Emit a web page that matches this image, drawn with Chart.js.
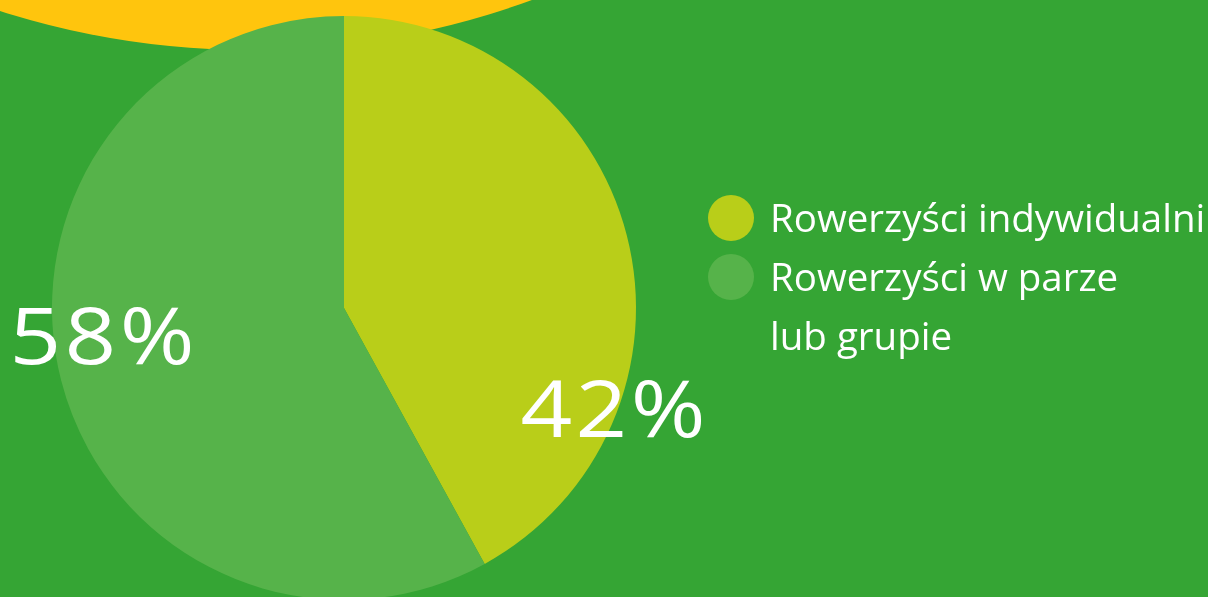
<!DOCTYPE html>
<html>
<head>
<meta charset="utf-8">
<script src="https://cdn.jsdelivr.net/npm/chart.js@4/dist/chart.umd.min.js"></script>
<style>
  html, body { margin: 0; padding: 0; }
  body { width: 1208px; height: 597px; overflow: hidden; background: #35a534; position: relative; }
  #sun { position: absolute; left: -570px; top: -1590px; width: 1640px; height: 1640px; border-radius: 50%; background: #ffc50d; }
  #chartBox { position: absolute; left: 0; top: 0; width: 1208px; height: 600px; }
</style>
</head>
<body>
<div id="sun"></div>
<div id="chartBox"><canvas id="myChart" width="1208" height="600"></canvas></div>
<script>
const labels = ['Rowerzyści indywidualni', ['Rowerzyści w parze', 'lub grupie']];
const shares = [42, 58];
const sliceColors = ['#b9ce19', '#56b34a'];

const FONT = '"Open Sans", "Noto Sans", sans-serif';

// procenty na wykresie
const percentLabels = {
  id: 'percentLabels',
  afterDatasetsDraw(chart, args, opts) {
    const ctx = chart.ctx;
    chart.data.datasets[0].data.forEach((v, i) => {
      const p = opts.anchors[i];
      ctx.save();
      ctx.font = '400 ' + opts.fontSize + 'px ' + FONT;
      ctx.letterSpacing = opts.spacing + 'px';
      ctx.fillStyle = '#ffffff';
      ctx.textAlign = 'left';
      ctx.textBaseline = 'alphabetic';
      const text = v + '%';
      const w = ctx.measureText(text).width - opts.spacing;
      ctx.translate(p.x, p.y);
      ctx.scale(opts.stretch, 1);
      ctx.fillText(text, -w / 2, 0);
      ctx.restore();
    });
  }
};

// legenda po prawej
const sideLegend = {
  id: 'sideLegend',
  afterDraw(chart, args, opts) {
    const ctx = chart.ctx;
    ctx.save();
    ctx.font = '400 ' + opts.fontSize + 'px ' + FONT;
    ctx.textBaseline = 'alphabetic';
    let y = opts.y;
    chart.data.labels.forEach((lab, i) => {
      const lines = Array.isArray(lab) ? lab : [lab];
      ctx.fillStyle = chart.data.datasets[0].backgroundColor[i];
      ctx.beginPath();
      ctx.arc(opts.x, y - opts.dotOffset, opts.dotR, 0, Math.PI * 2);
      ctx.fill();
      ctx.fillStyle = '#ffffff';
      lines.forEach(line => {
        ctx.fillText(line, opts.x + opts.textGap, y);
        y += opts.lineHeight;
      });
    });
    ctx.restore();
  }
};

const ctx = document.getElementById('myChart');
new Chart(ctx, {
  type: 'pie',
  data: {
    labels: labels,
    datasets: [{
      data: shares,
      backgroundColor: sliceColors,
      borderWidth: 0,
    }]
  },
  options: {
    responsive: false,
    animation: false,
    devicePixelRatio: 1,
    layout: {
      padding: { left: 52, top: 16, right: 572, bottom: 0 }
    },
    plugins: {
      legend: { display: false },
      tooltip: { enabled: false },
      percentLabels: {
        fontSize: 78,
        spacing: 3,
        stretch: 1.16,
        anchors: [{ x: 613, y: 437 }, { x: 102, y: 364 }]
      },
      sideLegend: {
        x: 731,
        y: 232,
        dotR: 23,
        dotOffset: 14,
        textGap: 39,
        lineHeight: 59,
        fontSize: 38.5
      }
    }
  },
  plugins: [percentLabels, sideLegend]
});
</script>
</body>
</html>
